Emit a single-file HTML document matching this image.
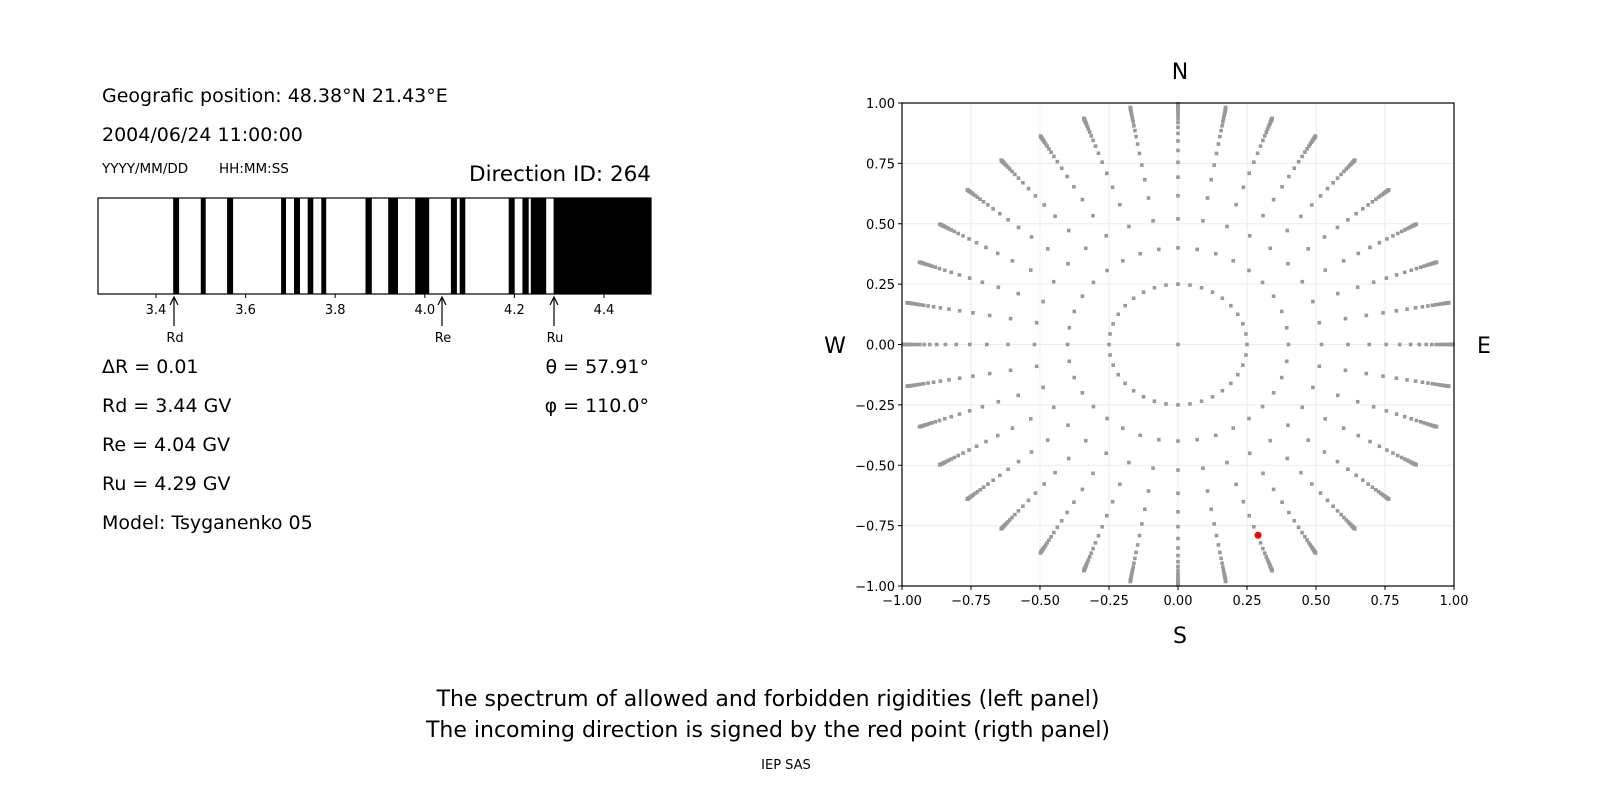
<!DOCTYPE html>
<html><head><meta charset="utf-8"><style>
html,body{margin:0;padding:0;background:#fff}
svg{display:block;font-family:"DejaVu Sans","Liberation Sans",sans-serif}
</style></head><body>
<svg id="s" width="1600" height="800" viewBox="0 0 1600 800" xmlns="http://www.w3.org/2000/svg">
<rect width="1600" height="800" fill="#fff"/>
<g font-size="19" fill="#000">
<text x="102" y="102">Geografic position: 48.38°N 21.43°E</text>
<text x="102" y="141">2004/06/24 11:00:00</text>
<text x="102" y="373">ΔR = 0.01</text>
<text x="102" y="412">Rd = 3.44 GV</text>
<text x="102" y="451">Re = 4.04 GV</text>
<text x="102" y="490">Ru = 4.29 GV</text>
<text x="102" y="529">Model: Tsyganenko 05</text>
<text x="649" y="373" text-anchor="end">θ = 57.91°</text>
<text x="649" y="412" text-anchor="end">φ = 110.0°</text>
</g>
<text x="102" y="173" font-size="13.5">YYYY/MM/DD</text>
<text x="219" y="173" font-size="13.5">HH:MM:SS</text>
<text x="651" y="181" font-size="21.5" text-anchor="end">Direction ID: 264</text>
<g id="bars" fill="#000"></g>
<rect x="98" y="198" width="553" height="96" fill="none" stroke="#000" stroke-width="1.2"/>
<g id="bt" font-size="13" text-anchor="middle"></g>
<g id="sc"></g>
<g font-size="22" text-anchor="middle">
<text x="1180" y="79">N</text>
<text x="1180" y="643">S</text>
<text x="835" y="353">W</text>
<text x="1484" y="353">E</text>
<text x="768" y="706">The spectrum of allowed and forbidden rigidities (left panel)</text>
<text x="768" y="737">The incoming direction is signed by the red point (rigth panel)</text>
</g>
<text x="786" y="769" font-size="13" text-anchor="middle">IEP SAS</text>
</svg>
<script>
var NS="http://www.w3.org/2000/svg";
function el(p,t,a,txt){var e=document.createElementNS(NS,t);for(var k in a)e.setAttribute(k,a[k]);if(txt!=null)e.textContent=txt;p.appendChild(e);return e;}
var bars=[[173.2,179.1],[200.8,205.7],[227.1,233.1],[281.1,286],[294,300],[307.7,313.3],[321.3,326.2],[365.5,371.8],[388.2,398],[415.2,429.2],[450.9,456.9],[459.7,465.3],[508.7,514.7],[522.4,528.7],[530.8,546.2],[553.6,651]];
var bg=document.getElementById("bars");
bars.forEach(function(b){el(bg,"rect",{x:b[0],y:198,width:b[1]-b[0],height:96});});
var bt=document.getElementById("bt");
[3.4,3.6,3.8,4.0,4.2,4.4].forEach(function(v){var x=156+(v-3.4)*448;el(bt,"line",{x1:x,x2:x,y1:294,y2:298,stroke:"#000"});el(bt,"text",{x:x,y:314},v.toFixed(1));});
[["Rd",174],["Re",442],["Ru",554]].forEach(function(a){var x=a[1];el(bt,"line",{x1:x,x2:x,y1:297,y2:326,stroke:"#000","stroke-width":1.2});el(bt,"path",{d:"M"+(x-4)+",305 L"+x+",297 L"+(x+4)+",305",fill:"none",stroke:"#000","stroke-width":1.2});el(bt,"text",{x:x+1,y:342},a[0]);});
var sc=document.getElementById("sc");
var L=902,R=1454,T=103,B=586,cx=1178,cy=344.5,sx=276,sy=241.5;
for(var i=0;i<9;i++){var v=-1+i*0.25;var x=cx+v*sx,y=cy-v*sy;
el(sc,"line",{x1:x,x2:x,y1:T,y2:B,stroke:"#ebebeb","stroke-width":1});
el(sc,"line",{x1:L,x2:R,y1:y,y2:y,stroke:"#ebebeb","stroke-width":1});
el(sc,"line",{x1:x,x2:x,y1:B,y2:B+4,stroke:"#000"});
el(sc,"line",{x1:L-4,x2:L,y1:y,y2:y,stroke:"#000"});
var lab=(v<0?"\u2212":"")+Math.abs(v).toFixed(2);
el(sc,"text",{x:x,y:B+19,"font-size":13,"text-anchor":"middle"},lab);
el(sc,"text",{x:L-7,y:y+5,"font-size":13,"text-anchor":"end"},lab);}
var dg=el(sc,"g",{fill:"#999"});
for(var a=0;a<360;a+=10){var t=a*Math.PI/180;
for(var k=0;k<30;k++){var r=1-0.75*Math.pow(0.8,k);if(r>0.997)break;
var px=r*Math.sin(t),py=r*Math.cos(t);if(Math.abs(px)>1||Math.abs(py)>1)continue;
if(k>0&&r<0.3)continue;
el(dg,"rect",{x:cx+px*sx-1.8,y:cy-py*sy-1.8,width:3.6,height:3.6});}}
el(dg,"rect",{x:cx-1.8,y:cy-1.8,width:3.6,height:3.6});
el(sc,"circle",{cx:cx+0.29*sx,cy:cy+0.79*sy,r:3.5,fill:"#f00"});
el(sc,"rect",{x:L,y:T,width:R-L,height:B-T,fill:"none",stroke:"#000","stroke-width":1.2});
</script>
</body></html>
